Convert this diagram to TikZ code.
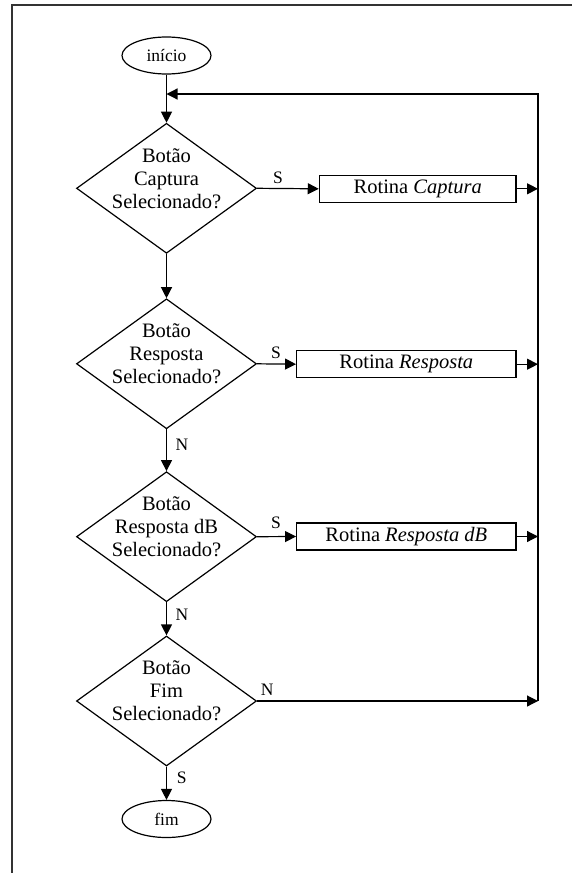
\documentclass[tikz,border=0pt]{standalone}
\usepackage{fontspec}
\setmainfont{Liberation Serif}
\usetikzlibrary{arrows.meta,shapes.geometric}
\begin{document}
\begin{tikzpicture}[x=1pt,y=-1pt,
  line width=1.2pt,
  arr/.style={-{Triangle[length=11pt,width=11pt]}},
  term/.style={draw,ellipse,minimum width=89pt,minimum height=37pt,inner sep=0pt,
    font=\fontsize{17.5}{20}\selectfont},
  decision/.style={draw,diamond,minimum width=180pt,minimum height=130pt,inner sep=0pt},
  dtext/.style={align=center,inner sep=0pt,font=\fontsize{20.5}{23}\selectfont},
  proc/.style={draw,rectangle,minimum height=27pt,inner sep=0pt,
    font=\fontsize{20.5}{23}\selectfont},
  lbl/.style={inner sep=0pt,font=\fontsize{17.5}{20}\selectfont}]
\useasboundingbox (0,0) rectangle (572,873);

% page frame (open at right and bottom)
\draw[line width=1.5pt,black!80] (12,873) -- (12,5) -- (572,5);

% terminals
\node[term] (inicio) at (166.5,55.5) {início};
\node[term] (fim) at (166.5,819) {fim};

% decisions
\node[decision] (d1) at (166.5,188.3) {};
\node[decision] (d2) at (166.5,363.8) {};
\node[decision] (d3) at (166.5,536.7) {};
\node[decision] (d4) at (166.5,701) {};
\node[dtext] (t1) at (166.5,178.3) {Botão\\Captura\\Selecionado?};
\node[dtext] (t2) at (166.5,353.8) {Botão\\Resposta\\Selecionado?};
\node[dtext] (t3) at (166.5,526.7) {Botão\\Resposta dB\\Selecionado?};
\node[dtext] (t4) at (166.5,691) {Botão\\Fim\\Selecionado?};

% processes
\node[proc,minimum width=196.7pt] (p1) at (417.7,188.8) {Rotina \textit{Captura}};
\node[proc,minimum width=219.3pt] (p2) at (406.3,364.2) {Rotina \textit{Resposta}};
\node[proc,minimum width=219.3pt] (p3) at (406.3,536.5) {Rotina \textit{Resposta dB}};

% return line
\coordinate (rt) at (538,94);
\coordinate (rb) at (538,701);
\coordinate (jn) at (166.5,94);

% main flow
\draw[arr] (inicio) -- (d1.north);
\draw[arr] (d1.south) -- (d2.north);
\draw[arr] (d2.south) -- (d3.north);
\draw[arr] (d3.south) -- (d4.north);
\draw[arr] (d4.south) -- (fim.north);

% branches to the routines
\draw[arr] (d1.east) -- (p1.west);
\draw[arr] (d2.east) -- (p2.west);
\draw[arr] (d3.east) -- (p3.west);
\draw[arr] (p1.east) -- (p1.east -| rt);
\draw[arr] (p2.east) -- (p2.east -| rt);
\draw[arr] (p3.east) -- (p3.east -| rt);
\draw[arr] (d4.east) -- (rb);
\draw[arr] (rb) -- (rt) -- (jn);

% branch labels
\node[lbl] (s1) at (278,178) {S};
\node[lbl] (s2) at (276,352.7) {S};
\node[lbl] (s3) at (276,523) {S};
\node[lbl] (n4) at (267.3,690) {N};
\node[lbl] (n2) at (182,445) {N};
\node[lbl] (n3) at (182,615) {N};
\node[lbl] (s4) at (181.7,777.3) {S};
\end{tikzpicture}
\end{document}
